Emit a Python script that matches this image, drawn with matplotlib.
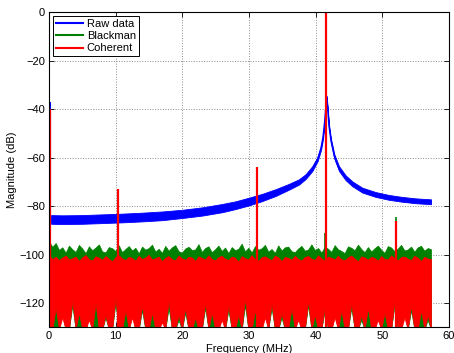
import numpy as np
import matplotlib
matplotlib.use("Agg")
import matplotlib.pyplot as plt
from matplotlib.lines import Line2D

plt.rcParams['font.family'] = ['Liberation Sans', 'DejaVu Sans']

# raw data spectrum (centre line and half band width, dB)
raw_f = [0.3, 2, 5, 8, 11, 14, 17, 20, 23, 26, 28, 30, 32, 34, 36, 37.5, 38.5,
         39.5, 40.3, 40.8, 41.1, 41.35, 41.55, 41.65, 41.8, 42.0, 42.3, 42.8,
         43.5, 44.5, 45.5, 47, 49, 51, 53, 55, 57.3]
raw_db = [-85.5, -85.6, -85.5, -85.2, -84.9, -84.5, -84.0, -83.2, -82.2, -80.8,
          -79.6, -78.1, -76.4, -74.4, -72.0, -70.0, -67.8, -64.5, -60.5, -56.0,
          -51.5, -45.0, -38.0, -35.0, -40.0, -47.0, -53.0, -59.5, -64.5, -68.3,
          -70.8, -73.4, -75.2, -76.4, -77.2, -77.8, -78.2]
raw_w = [1.8, 1.8, 1.8, 1.8, 1.8, 1.8, 1.8, 1.7, 1.7, 1.7, 1.6, 1.6, 1.5, 1.4,
         1.2, 1.1, 1.0, 1.0, 0.9, 0.8, 0.8, 0.7, 0.6, 0.5, 0.6, 0.7, 0.8, 0.9,
         1.0, 1.0, 1.0, 1.0, 1.0, 1.0, 1.0, 1.0, 1.0]
raw_spur_f = [0.1]
raw_spur_db = [-37.0]

# noise floor envelopes, 116 bins from 0 to 57.3 MHz
coh_top = [-100.5, -101.8, -100.9, -102.3, -101.2, -100.4, -102.0, -101.5, -100.8, -102.6,
           -101.1, -100.2, -101.9, -102.4, -100.7, -101.3, -102.1, -100.6, -101.7, -102.8,
           -101.0, -100.3, -101.6, -102.2, -100.9, -101.4, -102.5, -100.5, -101.8, -101.2,
           -100.1, -102.0, -101.5, -100.8, -102.7, -101.3, -100.6, -101.9, -102.3, -100.4,
           -101.6, -102.1, -100.9, -101.2, -102.6, -100.7, -101.4, -102.0, -100.3, -101.8,
           -102.4, -101.0, -100.5, -101.7, -102.2, -100.8, -101.3, -102.9, -100.6, -101.5,
           -102.0, -100.2, -101.9, -102.5, -101.1, -100.7, -101.6, -102.3, -100.4, -101.2,
           -102.7, -100.9, -101.4, -102.1, -100.5, -101.8, -102.4, -101.0, -100.6, -101.7,
           -102.2, -100.3, -101.5, -102.6, -100.8, -101.3, -102.0, -100.5, -101.9, -102.3,
           -101.1, -100.4, -101.6, -102.8, -100.7, -101.2, -102.1, -100.9, -101.4, -102.5,
           -100.6, -101.8, -102.0, -100.3, -101.5, -102.4, -101.0, -100.8, -101.7, -102.2,
           -100.5, -101.3, -102.6, -100.9, -101.6, -101.9]
coh_bot = [-131, -131, -122, -131, -126, -131, -131, -119, -131, -124,
           -131, -131, -127, -131, -120, -131, -131, -125, -131, -131,
           -118, -131, -131, -123, -131, -126, -131, -131, -121, -131,
           -131, -124, -131, -131, -128, -131, -119, -131, -131, -125,
           -131, -122, -131, -131, -126, -131, -131, -120, -131, -124,
           -131, -131, -127, -131, -121, -131, -131, -125, -131, -118,
           -131, -131, -123, -131, -131, -126, -131, -120, -131, -131,
           -124, -131, -131, -122, -131, -127, -131, -131, -119, -131,
           -125, -131, -131, -121, -131, -131, -126, -131, -123, -131,
           -131, -120, -131, -131, -125, -131, -122, -131, -131, -127,
           -131, -124, -131, -131, -119, -131, -131, -126, -131, -121,
           -131, -131, -123, -131, -125, -131]
blk_top = [-94.5, -96.8, -95.2, -98.1, -97.0, -99.2, -96.3, -97.8, -98.9, -96.0,
           -97.5, -99.4, -96.6, -98.2, -97.1, -95.8, -98.7, -99.1, -96.9, -97.4,
           -98.5, -96.2, -99.0, -97.7, -96.5, -98.3, -97.2, -99.5, -96.7, -98.0,
           -97.3, -95.9, -98.8, -97.6, -99.3, -96.4, -98.4, -97.0, -96.1, -98.6,
           -99.2, -97.5, -96.8, -98.1, -97.9, -95.7, -98.9, -97.3, -96.6, -99.0,
           -97.8, -96.3, -98.5, -97.1, -99.4, -96.9, -98.2, -97.6, -95.5, -98.7,
           -97.2, -99.1, -96.5, -98.0, -97.4, -96.0, -98.8, -97.7, -99.3, -96.2,
           -98.3, -97.0, -96.7, -98.6, -99.0, -97.5, -96.4, -98.4, -97.9, -95.8,
           -98.1, -97.3, -99.2, -96.8, -97.6, -98.9, -96.1, -97.8, -98.5, -99.4,
           -96.6, -97.2, -98.2, -95.9, -97.7, -99.0, -96.9, -98.7, -97.4, -96.3,
           -98.0, -99.3, -96.5, -97.1, -98.6, -97.5, -96.0, -98.3, -97.9, -96.7,
           -98.8, -97.0, -96.4, -98.4, -97.3, -97.8]
blk_bot = [-131, -131, -131, -131, -124, -131, -131, -121, -131, -131,
           -131, -131, -125, -131, -131, -131, -131, -126, -131, -131,
           -120, -131, -131, -131, -131, -124, -131, -131, -123, -131,
           -131, -131, -131, -131, -126, -131, -122, -131, -131, -127,
           -131, -124, -131, -131, -131, -131, -131, -122, -131, -131,
           -131, -131, -125, -131, -123, -131, -131, -131, -131, -121,
           -131, -131, -131, -131, -131, -124, -131, -122, -131, -131,
           -126, -131, -131, -131, -131, -125, -131, -131, -121, -131,
           -131, -131, -131, -123, -131, -131, -124, -131, -131, -131,
           -131, -122, -131, -131, -127, -131, -131, -131, -131, -125,
           -131, -131, -131, -131, -121, -131, -131, -124, -131, -123,
           -131, -131, -131, -131, -127, -131]
noise_f = np.linspace(0, 57.3, len(coh_top))

# tones that stand out of the floor
coh_spur_f = [0.12, 10.4, 31.2, 41.6, 52.0]
coh_spur_db = [-40.0, -73.0, -64.0, 2.0, -86.0]
blk_spur_f = [41.45, 52.0]
blk_spur_db = [-91.0, -84.5]

c_raw = (0, 0, 1)
c_blk = (0, 0.5, 0)
c_coh = (1, 0, 0)

fig = plt.figure(figsize=(4.54, 3.53), dpi=100)
ax = fig.add_axes([0.108, 0.073, 0.881, 0.892])

raw_f = np.array(raw_f)
raw_db = np.array(raw_db)
raw_w = np.array(raw_w)
ax.fill_between(raw_f, raw_db - raw_w, raw_db + raw_w, color=c_raw, lw=0.6, zorder=2)
ax.plot(raw_f, raw_db, color=c_raw, lw=1.0, zorder=2)
ax.vlines(raw_spur_f, -86, raw_spur_db, color=c_raw, lw=1.5, zorder=2)

ax.fill_between(noise_f, blk_bot, blk_top, color=c_blk, lw=0.5, zorder=3)
ax.vlines(blk_spur_f, -100, blk_spur_db, color=c_blk, lw=1.2, zorder=3)
ax.fill_between(noise_f, coh_bot, coh_top, color=c_coh, lw=0.5, zorder=4)
ax.vlines(coh_spur_f, -131, coh_spur_db, color=c_coh, lw=1.6, zorder=4)

ax.set_xlim(0, 60)
ax.set_ylim(-130, 0)
ax.set_xticks(np.arange(0, 61, 10))
ax.set_yticks(np.arange(-120, 1, 20))
ax.grid(True, ls=':', color='0.55', lw=0.7)
ax.set_axisbelow(True)
ax.tick_params(direction='in', top=True, right=True, length=3.5, width=0.6,
               labelsize=8, pad=3)
for s in ax.spines.values():
    s.set_linewidth(0.8)
    s.set_zorder(5)
ax.set_xlabel("Frequency (MHz)", fontsize=8, labelpad=2)
ax.set_ylabel("Magnitude (dB)", fontsize=8, labelpad=2)

handles = [Line2D([], [], color=c_raw, lw=1.5, label="Raw data"),
           Line2D([], [], color=c_blk, lw=1.5, label="Blackman"),
           Line2D([], [], color=c_coh, lw=1.5, label="Coherent")]
leg = ax.legend(handles=handles, loc='upper left', fontsize=8, fancybox=False,
                framealpha=1, edgecolor='black', borderpad=0.25, labelspacing=0.2,
                handlelength=2.5, handletextpad=0.3, borderaxespad=0.35)
leg.get_frame().set_linewidth(0.7)
leg.set_zorder(6)

fig.savefig("out.png", dpi=100)
